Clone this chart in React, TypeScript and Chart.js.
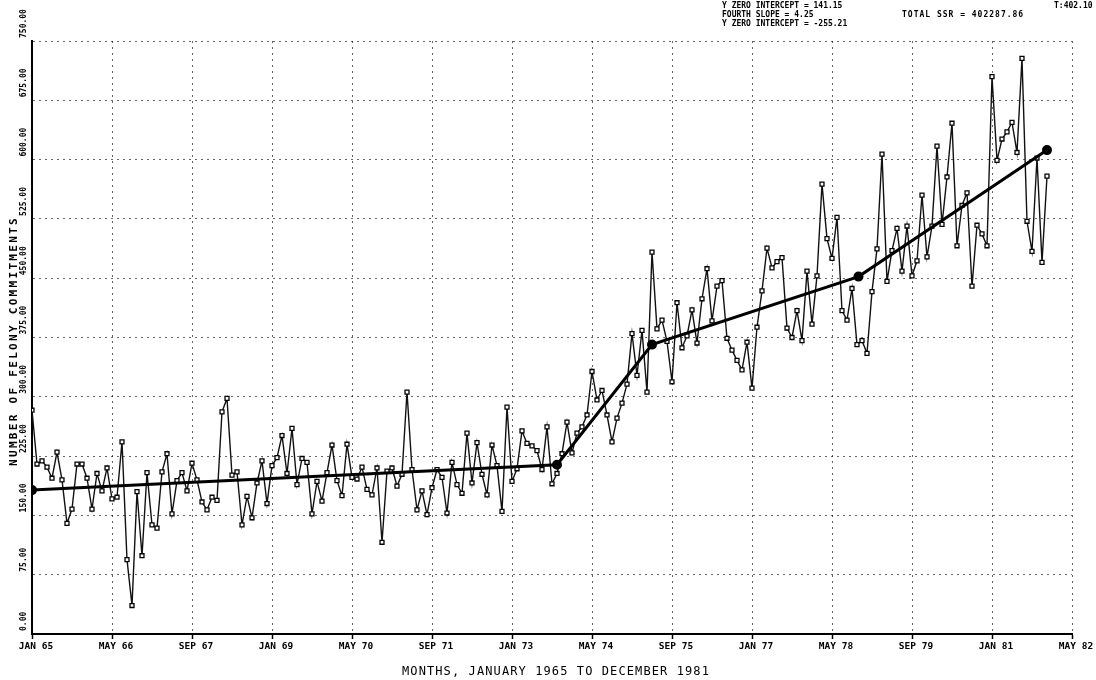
import { useEffect, useRef } from 'react';
import { Chart, registerables } from 'chart.js';

Chart.register(...registerables);

// Monthly felony commitments, January 1965 through December 1981
const commitments = [
  283, 215, 219, 211, 197, 230, 195, 140, 158, 215, 215, 197, // 1965
  158, 203, 181, 210, 171, 173, 243, 94, 36, 180, 99, 204, // 1966
  138, 134, 205, 228, 152, 194, 204, 181, 216, 195, 167, 157, // 1967
  173, 169, 281, 298, 201, 205, 138, 174, 147, 191, 219, 165, // 1968
  213, 223, 251, 203, 260, 189, 222, 217, 152, 193, 168, 204, // 1969
  239, 194, 175, 240, 198, 196, 211, 183, 176, 210, 116, 206, // 1970
  210, 187, 202, 306, 208, 157, 181, 151, 185, 208, 198, 153, // 1971
  217, 189, 178, 254, 191, 242, 202, 176, 239, 213, 155, 287, // 1972
  193, 209, 257, 241, 238, 232, 208, 262, 190, 203, 228, 268, // 1973
  229, 254, 262, 277, 332, 296, 308, 277, 243, 273, 292, 316, // 1974
  380, 327, 384, 306, 483, 386, 397, 370, 319, 419, 362, 377, // 1975
  410, 368, 424, 462, 396, 440, 447, 374, 359, 346, 334, 369, // 1976
  311, 388, 434, 488, 463, 471, 476, 387, 375, 409, 371, 459, // 1977
  392, 453, 569, 500, 475, 527, 409, 397, 437, 366, 371, 355, // 1978
  433, 487, 607, 446, 485, 513, 459, 516, 453, 472, 555, 477, // 1979
  516, 617, 518, 578, 646, 491, 542, 558, 440, 517, 506, 491, // 1980
  705, 599, 626, 635, 647, 609, 728, 522, 484, 602, 470, 579, // 1981
];

// Piecewise linear fit: knot positions (months since Jan 1965) and fitted values
const trendMonths = [0, 105, 124, 165.3, 203];
const trendValues = [182, 214, 366, 452, 612];

// Axis ticks
const monthTickLabels = [
  'JAN 65', 'MAY 66', 'SEP 67', 'JAN 69', 'MAY 70', 'SEP 71', 'JAN 73',
  'MAY 74', 'SEP 75', 'JAN 77', 'MAY 78', 'SEP 79', 'JAN 81', 'MAY 82',
];
const monthTickStep = 16;
const yTickValues = [0, 75, 150, 225, 300, 375, 450, 525, 600, 675, 750];
const yTickLabels = ['0.00', '75.00', '150.00', '225.00', '300.00', '375.00', '450.00', '525.00', '600.00', '675.00', '750.00'];

const yTitle = 'NUMBER OF FELONY COMMITMENTS';
const xTitle = 'MONTHS, JANUARY 1965 TO DECEMBER 1981';
const fitNotes = ['Y ZERO INTERCEPT = 141.15', 'FOURTH SLOPE = 4.25', 'Y ZERO INTERCEPT = -255.21'];
const ssrNote = 'TOTAL SSR = 402287.86';
const tNote = 'T:402.10';

const MONO = '"DejaVu Sans Mono", "Liberation Mono", monospace';

const textPlugin = {
  id: 'plotterText',
  afterDraw(chart: any) {
    const ctx = chart.ctx as CanvasRenderingContext2D;
    const y = chart.scales.y;
    const area = chart.chartArea;
    ctx.save();
    ctx.fillStyle = '#000';

    // y tick labels, rotated, starting just above each gridline
    ctx.font = `bold 8px ${MONO}`;
    ctx.textAlign = 'left';
    ctx.textBaseline = 'middle';
    yTickValues.forEach((v, i) => {
      const py = y.getPixelForValue(v);
      ctx.save();
      ctx.translate(23.5, py - 3);
      ctx.rotate(-Math.PI / 2);
      ctx.fillText(yTickLabels[i], 0, 0);
      ctx.restore();
    });

    // y axis title
    ctx.save();
    ctx.font = `bold 11px ${MONO}`;
    (ctx as any).letterSpacing = '2.3px';
    ctx.textAlign = 'center';
    ctx.translate(14, 341);
    ctx.rotate(-Math.PI / 2);
    ctx.fillText(yTitle, 0, 0);
    ctx.restore();

    // x axis title
    ctx.save();
    ctx.font = `12px ${MONO}`;
    (ctx as any).letterSpacing = '1.1px';
    ctx.textAlign = 'center';
    ctx.fillText(xTitle, (area.left + area.right) / 2 + 4, 672);
    ctx.restore();

    // fit annotations
    ctx.font = `bold 8px ${MONO}`;
    ctx.textAlign = 'left';
    fitNotes.forEach((t, i) => ctx.fillText(t, 722, 5.5 + i * 9));
    ctx.save();
    (ctx as any).letterSpacing = '1px';
    ctx.fillText(ssrNote, 902, 14.5);
    ctx.restore();
    ctx.fillText(tNote, 1054, 5.5);

    ctx.restore();
  },
};

export default function App() {
  const canvasRef = useRef<HTMLCanvasElement | null>(null);

  useEffect(() => {
    if (!canvasRef.current) return;
    const points = commitments.map((v, i) => ({ x: i, y: v }));
    const trend = trendMonths.map((m, i) => ({ x: m, y: trendValues[i] }));

    const chart = new Chart(canvasRef.current, {
      type: 'line',
      data: {
        datasets: [
          {
            label: 'Fit',
            data: trend,
            borderColor: '#000',
            borderWidth: 3,
            pointStyle: 'circle',
            pointRadius: 3.5,
            pointBackgroundColor: '#000',
            pointBorderColor: '#000',
            tension: 0,
            order: 0,
          },
          {
            label: 'Felony commitments',
            data: points,
            borderColor: '#111',
            borderWidth: 1.4,
            pointStyle: 'rect',
            pointRadius: 2.8,
            pointBackgroundColor: '#fff',
            pointBorderColor: '#000',
            pointBorderWidth: 1.3,
            tension: 0,
            order: 1,
          },
        ],
      },
      options: {
        animation: false,
        responsive: false,
        devicePixelRatio: 1,
        events: [],
        layout: { padding: { top: 41, right: 24, left: 0, bottom: 0 } },
        plugins: { legend: { display: false }, tooltip: { enabled: false } },
        scales: {
          x: {
            type: 'linear',
            min: 0,
            max: monthTickStep * (monthTickLabels.length - 1),
            afterFit: (scale: any) => { scale.height = 46; },
            ticks: {
              stepSize: monthTickStep,
              autoSkip: false,
              maxRotation: 0,
              minRotation: 0,
              labelOffset: 4,
              padding: 2,
              color: '#000',
              font: { family: MONO, size: 9.5, weight: 'bold' },
              callback: (v: any) => monthTickLabels[Math.round(Number(v) / monthTickStep)] ?? '',
            },
            grid: {
              color: 'rgba(0,0,0,0.6)',
              lineWidth: 1,
              drawTicks: true,
              tickLength: 5,
              tickColor: '#000',
              tickWidth: 1.5,
              tickBorderDash: [],
            },
            border: { display: true, color: '#000', width: 2, dash: [2, 4] },
          },
          y: {
            type: 'linear',
            min: 0,
            max: 750,
            afterFit: (scale: any) => { scale.width = 32; },
            ticks: { stepSize: 75, display: false },
            grid: {
              color: 'rgba(0,0,0,0.6)',
              lineWidth: 1,
              drawTicks: false,
            },
            border: { display: true, color: '#000', width: 2, dash: [2, 4] },
          },
        },
      },
      plugins: [textPlugin],
    } as any);

    return () => chart.destroy();
  }, []);

  return (
    <div style={{ position: 'absolute', left: 0, top: 0, width: 1096, height: 680, background: '#fff' }}>
      <canvas ref={canvasRef} width={1096} height={680} style={{ display: 'block' }} />
    </div>
  );
}
